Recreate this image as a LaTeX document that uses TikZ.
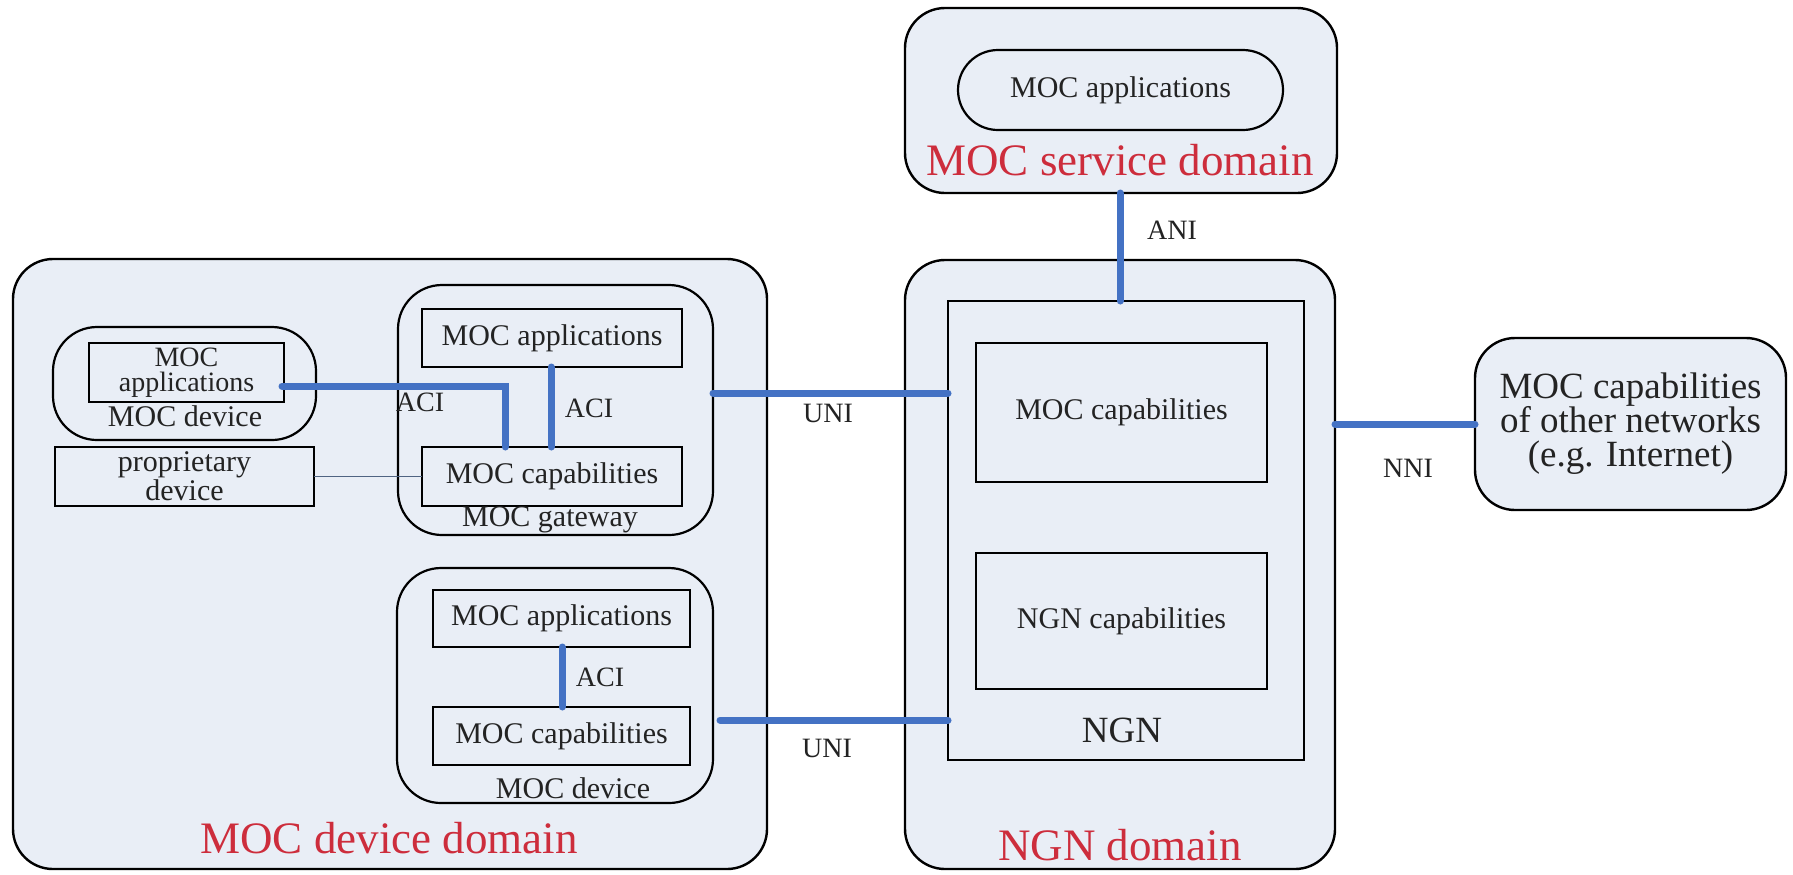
\documentclass[tikz,border=0pt]{standalone}
\usepackage{fontspec}
\setmainfont{Liberation Serif}
\usetikzlibrary{calc}

\definecolor{domfill}{RGB}{233,238,246}
\definecolor{linkblue}{RGB}{68,114,196}
\definecolor{wireblue}{RGB}{80,100,130}
\definecolor{domred}{RGB}{205,45,60}
\definecolor{inkgray}{RGB}{35,35,35}

\newcommand\txtbox{\fontsize{15}{13}\selectfont}
\newcommand\txtsmallbox{\fontsize{14}{12.5}\selectfont}
\newcommand\txtiface{\fontsize{14}{14}\selectfont}
\newcommand\txtdomain{\fontsize{22.5}{24}\selectfont}
\newcommand\txtbig{\fontsize{18.5}{17}\selectfont}

\begin{document}
\begin{tikzpicture}[x=0.5pt,y=-0.5pt,
  every node/.style={inner sep=0pt, outer sep=0pt, text=inkgray},
  domainbox/.style={draw=black, line width=1.2pt, fill=domfill, rounded corners=20pt},
  unitbox/.style={draw=black, line width=1.1pt, fill=domfill, rounded corners=22pt},
  plainbox/.style={draw=black, line width=1.1pt, fill=domfill, font=\txtbox, align=center},
  lbl/.style={font=\txtbox},
  iface/.style={font=\txtiface},
  domlbl/.style={font=\txtdomain, text=domred},
  link/.style={draw=linkblue, line width=3.5pt, line cap=round},
  wire/.style={draw=wireblue, line width=0.9pt}]

% canvas
\fill[white] (0,0) rectangle (1793,874);
\useasboundingbox (0,0) rectangle (1793,874);

% domains
\node[domainbox, minimum width=377pt, minimum height=305pt] (devdom) at (390,564) {};
\node[domainbox, minimum width=215pt, minimum height=304.5pt] (ngndom) at (1120,564.5) {};
\node[domainbox, minimum width=216pt, minimum height=92.5pt] (svcdom) at (1121,100.5) {};
\node[domainbox, minimum width=155.5pt, minimum height=86pt, font=\txtbig, align=center]
  (other) at (1630.5,424) {MOC capabilities\\of other networks\\(e.g. Internet)};

% MOC device domain: small device and proprietary device
\node[unitbox, minimum width=131.5pt, minimum height=56.5pt] (smalldev) at (184.5,383.5) {};
\node[plainbox, minimum width=97.5pt, minimum height=29.5pt, font=\txtsmallbox]
  (smallapps) at (186.5,372.5) {MOC\\applications};
\node[lbl] (smalldevlbl) at (185,416) {MOC device};
\node[plainbox, minimum width=129.5pt, minimum height=29.5pt] (prop) at (184.5,476.5) {proprietary\\device};

% MOC gateway
\node[unitbox, minimum width=157.5pt, minimum height=125pt] (gateway) at (555.5,410) {};
\node[plainbox, minimum width=130pt, minimum height=29pt] (gwapps) at (552,338) {MOC applications};
\node[plainbox, minimum width=130pt, minimum height=29.5pt] (gwcaps) at (552,476.5) {MOC capabilities};
\node[lbl] (gwlbl) at (550,520) {MOC gateway};

% MOC device (lower)
\node[unitbox, minimum width=158pt, minimum height=117.5pt] (botdev) at (555,685.5) {};
\node[plainbox, minimum width=128.5pt, minimum height=28.5pt] (bdapps) at (561.5,618.5) {MOC applications};
\node[plainbox, minimum width=128.5pt, minimum height=29pt] (bdcaps) at (561.5,736) {MOC capabilities};
\node[lbl] (bdlbl) at (573,788) {MOC device};

\node[domlbl] (devdomlbl) at (389,838) {MOC device domain};

% NGN domain
\node[plainbox, minimum width=178pt, minimum height=229.5pt] (ngn) at (1126,530.5) {};
\node[plainbox, minimum width=145.5pt, minimum height=69.5pt] (ngnmoc) at (1121.5,412.5) {MOC capabilities};
\node[plainbox, minimum width=145.5pt, minimum height=68pt] (ngncap) at (1121.5,621) {NGN capabilities};
\node[font=\txtbig] (ngnlbl) at (1122,730) {NGN};
\node[domlbl] (ngndomlbl) at (1120,845) {NGN domain};

% MOC service domain
\node[plainbox, rounded corners=20pt, minimum width=162.5pt, minimum height=40pt] (pill) at (1120.5,90) {MOC applications};
\node[domlbl] (svclbl) at (1120,160) {MOC service domain};

% connectors
\draw[wire] (prop.east) -- (gwcaps.west);
\draw[link] ($(smallapps.east)+(-2,13.5)$) -| ($(gwcaps.north)+(-47,0)$);
\draw[link] ($(gwapps.south)+(-1,0)$) -- ($(gwcaps.north)+(-1,0)$);
\draw[link] ($(bdapps.south)+(0.5,0)$) -- ($(bdcaps.north)+(0.5,0)$);
\draw[link] ($(gateway.east)+(0,-17)$) coordinate (uni1) -- (uni1 -| ngn.west);
\draw[link] ($(botdev.east)+(7,34.5)$) coordinate (uni2) -- (uni2 -| ngn.west);
\draw[link] ($(svcdom.south)+(-1,0)$) coordinate (ani) -- (ani |- ngn.north);
\draw[link] (other.west) -- (other.west -| ngndom.east);

% interface labels
\node[iface] (aci1) at (420,402) {ACI};
\node[iface] (aci2) at (589,408) {ACI};
\node[iface] (aci3) at (600,677) {ACI};
\node[iface] (unil1) at (828,413) {UNI};
\node[iface] (unil2) at (827,748) {UNI};
\node[iface] (anil) at (1172,230) {ANI};
\node[iface] (nnil) at (1408,468) {NNI};
\end{tikzpicture}
\end{document}
